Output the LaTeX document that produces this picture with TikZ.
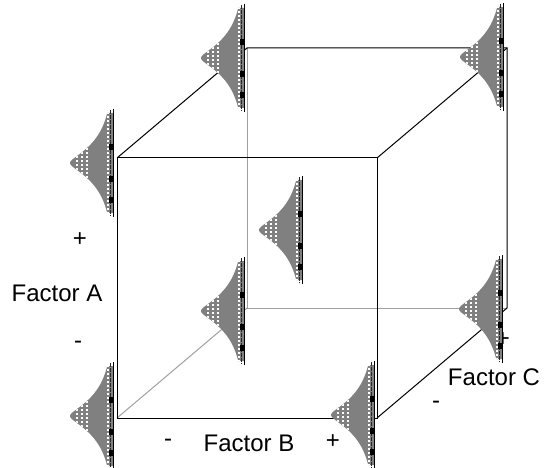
\documentclass[tikz,border=0pt]{standalone}
\usepackage{fontspec}
\setmainfont{Liberation Sans}
\usepackage{xcolor}
\usepackage{tikz}
\usetikzlibrary{positioning}
\definecolor{bellgray}{HTML}{808080}
\definecolor{edgegray}{HTML}{A0A0A0}

\begin{document}
\begin{tikzpicture}[
    x=1pt, y=-1pt,
    cubeedge/.style={draw=black, line width=1pt},
    hiddenedge/.style={draw=edgegray, line width=1pt},
    factortext/.style={font=\fontsize{24}{28}\selectfont, inner sep=0pt},
    bellcurve/.pic={
        \begin{scope}
            \clip (0,-50) -- plot[domain=-50:50, samples=81, variable=\t]
                ({-43*exp((4-sqrt(\t*\t+16))/23)}, {\t}) -- (0,50) -- cycle;
            \fill[bellgray] (-50,-60) rectangle (0,60);
            \foreach \dx in {-36,-31,-26,-5}
                \draw[white, line width=1.3pt, dash pattern=on 2pt off 2pt] (\dx,-55) -- (\dx,55);
        \end{scope}
        \draw[black!85, line width=0.9pt, dash pattern=on 4pt off 1pt] (-2.6,-53) -- (-2.6,53);
        \draw[black, line width=1.4pt] (0.7,-54) -- (0.7,54);
        \foreach \dy in {-16,16,37}
            \fill[black] (-4.5,\dy-3) rectangle (0,\dy+3);
    }
]
\useasboundingbox (0,0) rectangle (544,468);

% cube corners
\coordinate (ftl) at (117,158);
\coordinate (ftr) at (377,158);
\coordinate (fbl) at (117,418);
\coordinate (fbr) at (377,418);
\coordinate (btl) at (247,48);
\coordinate (btr) at (507,48);
\coordinate (bbl) at (247,308);
\coordinate (bbr) at (507,308);

% hidden edges
\draw[hiddenedge] (btl) -- (bbl) -- (bbr);
\draw[hiddenedge] (fbl) -- (bbl);

% visible edges
\draw[cubeedge] (ftl) rectangle (fbr);
\draw[cubeedge] (ftl) -- (btl) -- (btr) -- (bbr) -- (fbr);
\draw[cubeedge] (ftr) -- (btr);

\node[factortext] (cplus) at (503,340) {+};

% distributions at the corners and the centre
\pic (bellftl) at (113,163) {bellcurve};
\pic (bellbtl) at (244,58) {bellcurve};
\pic (bellbtr) at (503,57) {bellcurve};
\pic (bellfbl) at (113,416) {bellcurve};
\pic (bellfbr) at (374,415) {bellcurve};
\pic (bellbbl) at (244,311) {bellcurve};
\pic (bellbbr) at (502,309) {bellcurve};
\pic (bellmid) at (302,230) {bellcurve};

% factor labels
\node[factortext] (aplus) at (80,240) {+};
\node[factortext] (alabel) at (57,293) {Factor A};
\node[factortext] (aminus) at (78,345) {-};
\node[factortext] (bminus) at (168,443) {-};
\node[factortext] (blabel) at (249,443) {Factor B};
\node[factortext] (bplus) at (333,442) {+};
\node[factortext] (clabel) at (494,377) {Factor C};
\node[factortext] (cminus) at (436,405) {-};
\end{tikzpicture}
\end{document}
